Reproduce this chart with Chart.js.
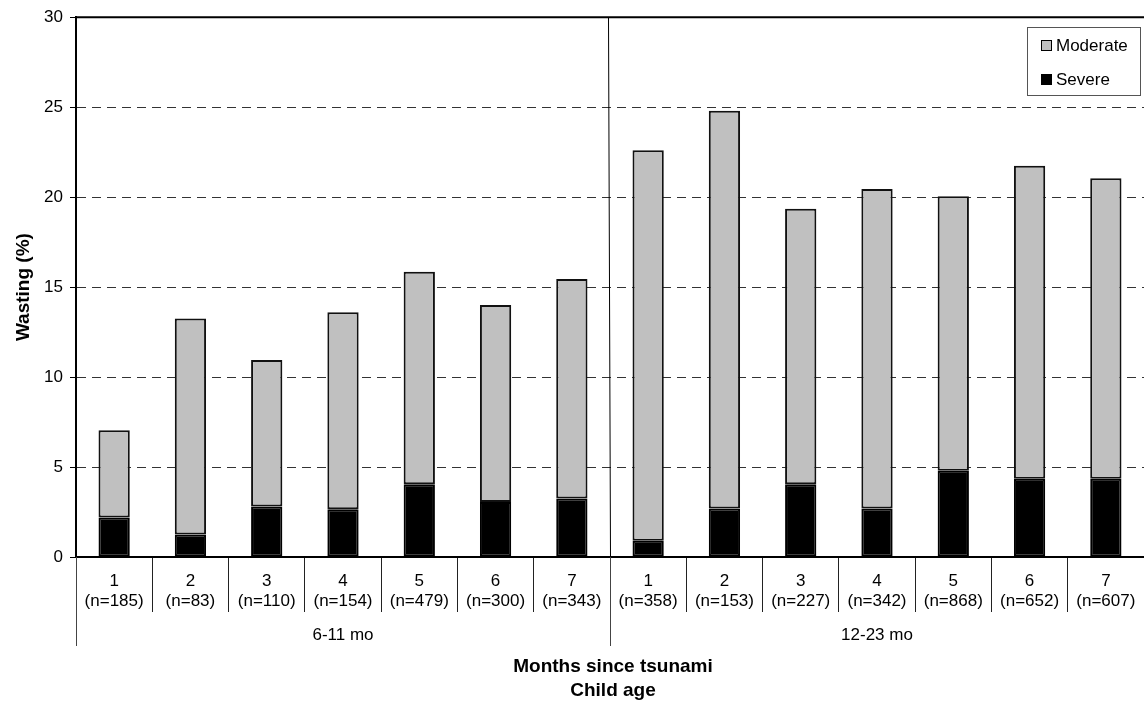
<!DOCTYPE html>
<html>
<head>
<meta charset="utf-8">
<script src="https://cdn.jsdelivr.net/npm/chart.js@4.4.0/dist/chart.umd.min.js"></script>
<style>
  html, body { margin: 0; padding: 0; background: #fff; overflow: hidden; }
  #wrap { width: 1144px; height: 704px; }
</style>
</head>
<body>
<div id="wrap"><canvas id="chart" width="1144" height="704"></canvas></div>
<script>
// months since tsunami, two age groups of 7 each
const months = ['1', '2', '3', '4', '5', '6', '7', '1', '2', '3', '4', '5', '6', '7']
const sampleSizes = [185, 83, 110, 154, 479, 300, 343, 358, 153, 227, 342, 868, 652, 607]
const ageGroups = ['6-11 mo', '12-23 mo']
const groupSize = 7

// wasting (%)
const severe = [2.2, 1.25, 2.8, 2.65, 4.05, 3.05, 3.25, 0.9, 2.7, 4.05, 2.7, 4.8, 4.35, 4.35]
const moderate = [4.85, 12.0, 8.15, 10.95, 11.8, 10.95, 12.2, 21.7, 22.1, 15.3, 17.75, 15.25, 17.4, 16.7]

const yTicks = [0, 5, 10, 15, 20, 25, 30]

const FONT = "'Liberation Sans', Arial, sans-serif"

let labels = months.map((m, i) => [m, `(n=${sampleSizes[i]})`])

const decorations = {
  id: 'decorations',
  afterDraw(chart) {
    let ctx = chart.ctx
    let area = chart.chartArea
    let x = chart.scales.x
    let half = (x.getPixelForValue(1) - x.getPixelForValue(0)) / 2
    ctx.save()

    // top frame line
    ctx.strokeStyle = '#000'
    ctx.lineWidth = 2
    ctx.beginPath()
    ctx.moveTo(area.left, area.top)
    ctx.lineTo(area.right, area.top)
    ctx.stroke()

    // divider between age groups inside the plot
    let split = x.getPixelForValue(groupSize) - half
    ctx.lineWidth = 1
    ctx.beginPath()
    ctx.moveTo(Math.round(split) - 1.5, area.top)
    ctx.lineTo(Math.round(split) + 0.5, area.bottom)
    ctx.stroke()

    // long group separators and group labels below the axis
    ctx.strokeStyle = '#444'
    for (let g = 0; g <= ageGroups.length; g++) {
      let px = Math.round(x.getPixelForValue(g * groupSize) - half) + 0.5
      ctx.beginPath()
      ctx.moveTo(px, area.bottom)
      ctx.lineTo(px, 646)
      ctx.stroke()
    }
    ctx.fillStyle = '#000'
    ctx.font = `17px ${FONT}`
    ctx.textAlign = 'center'
    ctx.textBaseline = 'middle'
    ageGroups.forEach((name, g) => {
      let a = x.getPixelForValue(g * groupSize)
      let b = x.getPixelForValue(g * groupSize + groupSize - 1)
      ctx.fillText(name, (a + b) / 2, 635)
    })

    // axis titles
    ctx.font = `bold 19px ${FONT}`
    let cx = (area.left + area.right) / 2 + 3
    ctx.fillText('Months since tsunami', cx, 667)
    ctx.fillText('Child age', cx, 691)

    ctx.save()
    ctx.translate(24, (area.top + area.bottom) / 2)
    ctx.rotate(-Math.PI / 2)
    ctx.fillText('Wasting (%)', 0, 0)
    ctx.restore()

    // legend box
    let box = { left: 1027, top: 27, width: 113, height: 68 }
    ctx.fillStyle = '#fff'
    ctx.fillRect(box.left, box.top, box.width, box.height)
    ctx.strokeStyle = '#555'
    ctx.lineWidth = 1
    ctx.strokeRect(box.left + 0.5, box.top + 0.5, box.width, box.height)

    let items = chart.data.datasets.slice().reverse()
    ctx.font = `17px ${FONT}`
    ctx.textAlign = 'left'
    items.forEach((ds, i) => {
      let cy = box.top + 18 + i * 34
      ctx.fillStyle = ds.backgroundColor
      ctx.fillRect(box.left + 14, cy - 5, 10, 10)
      ctx.strokeStyle = '#000'
      ctx.strokeRect(box.left + 14.5, cy - 4.5, 10, 10)
      ctx.fillStyle = '#000'
      ctx.fillText(ds.label, box.left + 29, cy + 1)
    })
    ctx.restore()
  }
}

let chart = new Chart(document.getElementById('chart'), {
  type: 'bar',
  data: {
    labels: labels,
    datasets: [
      {
        label: 'Severe',
        data: severe,
        backgroundColor: '#000000',
        borderColor: '#000000',
        borderWidth: 2,
        borderSkipped: false,
        barPercentage: 0.41,
        categoryPercentage: 1
      },
      {
        label: 'Moderate',
        data: moderate,
        backgroundColor: '#c0c0c0',
        borderColor: '#111111',
        borderWidth: 2,
        borderSkipped: false,
        barPercentage: 0.41,
        categoryPercentage: 1
      }
    ]
  },
  options: {
    responsive: false,
    animation: false,
    devicePixelRatio: 1,
    layout: { padding: { top: 15, right: 0, bottom: 0, left: 0 } },
    plugins: {
      legend: { display: false },
      tooltip: { enabled: false }
    },
    scales: {
      x: {
        stacked: true,
        grid: {
          offset: true,
          drawOnChartArea: false,
          drawTicks: true,
          tickLength: 55,
          tickColor: '#222',
          tickWidth: 1
        },
        border: { display: true, color: '#000', width: 2 },
        ticks: {
          color: '#000',
          padding: -41,
          maxRotation: 0,
          autoSkip: false,
          font: { family: FONT, size: 17, lineHeight: 1.2 }
        },
        afterFit(scale) { scale.height = 147 }
      },
      y: {
        stacked: true,
        min: 0,
        max: 30,
        afterBuildTicks(scale) { scale.ticks = yTicks.map(v => ({ value: v })) },
        grid: {
          color: ctx => (ctx.tick.value === 0 || ctx.tick.value === 30) ? 'rgba(0,0,0,0)' : '#333',
          lineWidth: 1,
          tickLength: 6,
          tickColor: '#000'
        },
        border: { display: true, color: '#000', width: 2, dash: [9, 6] },
        ticks: {
          color: '#000',
          padding: 7,
          font: { family: FONT, size: 17 }
        },
        afterFit(scale) { scale.width = 76 }
      }
    }
  },
  plugins: [decorations]
})
</script>
</body>
</html>
